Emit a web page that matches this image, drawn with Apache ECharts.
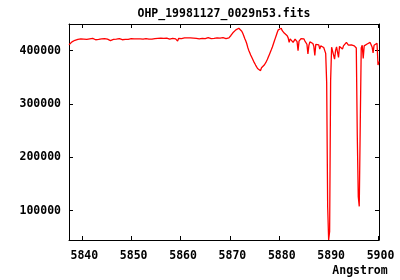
<!DOCTYPE html>
<html>
<head>
<meta charset="utf-8">
<script src="https://cdn.jsdelivr.net/npm/echarts@6.0.0/dist/echarts.min.js"></script>
<style>html,body{margin:0;padding:0;background:#fff}#c{width:400px;height:280px}</style>
</head>
<body>
<div id="c"></div>
<script>
// Spectrum sampling grid (FITS-style start + step, Angstrom)
const lambdaStart = 5837.4;
const lambdaStep = 0.2;
// Flux values, one per grid sample
const flux = [
411000,413500,414000,416500,415500,418000,419500,418500,420500,421000,
421500,420000,422000,421000,422500,421500,420500,422000,421000,423000,
421500,422000,420000,421500,423000,421000,422000,420500,421500,422500,
421000,419500,421500,422000,420500,421000,422500,421500,420000,421500,
422000,421000,419000,421500,422000,421000,420500,422000,421500,420500,
421500,422500,421000,422000,420500,421500,422000,421000,422500,421500,
421000,422000,420500,422500,423000,421500,422000,421000,422500,422000,
421500,423000,422000,421000,422500,421500,422000,421000,422500,423000,
422000,421500,422500,423000,421500,422000,423000,422500,421500,422000,
423000,422500,422000,423500,422000,421500,423000,422500,422000,423500,
423000,422500,421500,423000,424000,423000,422500,423500,422000,423000,
418000,423000,424000,423500,422500,424500,423000,424000,423500,422500,
424000,423500,422500,424000,423000,424500,423500,422500,424000,423000,
424500,423500,422000,423500,424500,423000,424000,423500,422500,424000,
423500,424500,423000,424000,422500,423500,424500,423000,422000,423500,
424000,423000,424500,423500,422000,423500,424500,423000,421500,422500,
423500,422500,424000,426000,428500,431000,433500,435500,437000,439000,
441000,442500,442000,440500,438500,436500,432500,428000,423000,418500,
413500,406500,401000,396500,392000,388000,384500,380000,376500,373000,
370000,366500,364000,367000,362500,368000,369500,371000,373500,376500,
380000,384000,388500,393000,397500,402000,407000,412500,418000,423500,
429000,434500,439000,442500,440500,442000,437500,435500,433000,434000,
431000,428000,424000,415500,422000,423500,421000,415500,419000,421500,
422000,417000,400000,418000,421500,422500,421000,423000,422000,418000,
415000,412000,394000,410000,416500,415500,414000,413500,408000,391000,
412000,415500,414500,411000,403000,409000,409500,408000,406000,404000,
395000,340000,108000,45000,61000,344000,406500,408000,407000,384000,
400000,407000,409000,387500,408000,409500,405000,403000,409000,411000,
412500,415500,413000,410500,412000,413500,411000,409500,410500,409000,
408000,405000,241000,126000,108000,260000,405000,410000,385600,409000,
412000,410000,412500,410000,413000,415500,412000,407000,396000,410000,
412000,413500,414000,373000,380000
];
const xTicks = [5840, 5850, 5860, 5870, 5880, 5890, 5900];
const yTicks = [100000, 200000, 300000, 400000];
const titleText = 'OHP_19981127_0029n53.fits';
const xName = 'Angstrom';

const xMin = 5837.4, xMax = 5900.2, yMin = 45000, yMax = 450000;

const data = flux.map((f, i) => [Number((lambdaStart + i * lambdaStep).toFixed(2)), f]);

const font = { fontFamily: 'DejaVu Sans Mono', fontWeight: 'bold', fontSize: 11.5, color: '#000' };
const black = { color: '#000', width: 1 };

const chart = echarts.init(document.getElementById('c'), null, { renderer: 'canvas' });
chart.setOption({
  animation: false,
  backgroundColor: '#fff',
  grid: { left: 69, right: 21, top: 24, bottom: 40, outerBoundsMode: 'none', containLabel: false },
  xAxis: [
    {
      type: 'value', min: xMin, max: xMax, position: 'bottom',
      axisLine: { show: true, onZero: false, lineStyle: black },
      axisTick: { show: true, inside: true, length: 4, customValues: xTicks, lineStyle: black },
      axisLabel: Object.assign({ customValues: xTicks, margin: 10, padding: [0, 0, 0, 5], formatter: v => String(v) }, font),
      splitLine: { show: false }
    },
    {
      type: 'value', min: xMin, max: xMax, position: 'top',
      axisLine: { show: true, onZero: false, lineStyle: black },
      axisTick: { show: true, inside: true, length: 4, customValues: xTicks, lineStyle: black },
      axisLabel: { show: false },
      splitLine: { show: false }
    }
  ],
  yAxis: [
    {
      type: 'value', min: yMin, max: yMax, position: 'left',
      axisLine: { show: true, onZero: false, lineStyle: black },
      axisTick: { show: true, inside: true, length: 4, customValues: yTicks, lineStyle: black },
      axisLabel: Object.assign({ customValues: yTicks, margin: 8, padding: [3, 0, 0, 0], formatter: v => String(v) }, font),
      splitLine: { show: false }
    },
    {
      type: 'value', min: yMin, max: yMax, position: 'right',
      axisLine: { show: true, onZero: false, lineStyle: black },
      axisTick: { show: true, inside: true, length: 4, customValues: yTicks, lineStyle: black },
      axisLabel: { show: false },
      splitLine: { show: false }
    }
  ],
  graphic: [
    { type: 'text', x: 224, y: 14.5, style: { text: titleText, align: 'center', verticalAlign: 'middle', fill: '#000', font: 'bold 11.5px "DejaVu Sans Mono"' } },
    { type: 'text', x: 360, y: 271, style: { text: xName, align: 'center', verticalAlign: 'middle', fill: '#000', font: 'bold 11.5px "DejaVu Sans Mono"' } }
  ],
  series: [{
    type: 'line',
    xAxisIndex: 0, yAxisIndex: 0,
    data: data,
    showSymbol: false,
    symbol: 'none',
    clip: true,
    lineStyle: { color: '#ff0000', width: 1.3 },
    emphasis: { disabled: true }
  }]
});
</script>
</body>
</html>
